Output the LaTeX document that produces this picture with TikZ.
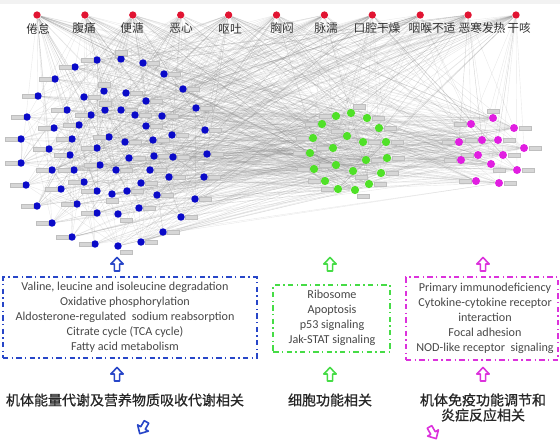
\documentclass[tikz,border=0pt]{standalone}
\usepackage{fontspec}
\setmainfont{Carlito}
\newfontfamily\cjk{Noto Sans CJK SC}
\newfontfamily\cjkb[FakeBold=0.8]{Noto Sans CJK SC}
\pgfdeclarelayer{bg}
\pgfsetlayers{bg,main}
\definecolor{nblue}{RGB}{10,10,200}
\definecolor{ngreen}{RGB}{80,225,40}
\definecolor{nmag}{RGB}{225,30,225}
\definecolor{nred}{RGB}{225,20,50}
\definecolor{bbox}{RGB}{40,70,200}
\definecolor{gbox}{RGB}{70,220,70}
\definecolor{mbox}{RGB}{220,50,220}
\tikzset{every picture/.style={line width=0.75pt}}
\tikzset{
  sym/.style={circle,fill=nred,inner sep=0pt,minimum size=5.5pt},
  symtext/.style={font=\cjk\fontsize{8.8}{10}\selectfont,text=black!80,inner sep=0pt},
  lbox/.style={fill=gray!32,draw=gray!50,line width=0.2pt,inner sep=0pt,minimum width=9pt,minimum height=3.3pt},
  bnode/.style={circle,fill=nblue,inner sep=0pt,minimum size=5.6pt,label distance=0.4pt},
  gnode/.style={circle,fill=ngreen,inner sep=0pt,minimum size=6.2pt,label distance=0.4pt},
  mnode/.style={circle,fill=nmag,inner sep=0pt,minimum size=6pt,label distance=0.4pt},
  edge/.style={draw=black!45,opacity=0.2,line width=0.3pt},
  pathbox/.style={draw=#1,line width=1.4pt,dash pattern=on 4pt off 2.5pt on 1pt off 2.5pt,inner sep=0pt},
  pathtext/.style={font=\fontsize{9.1}{11.2}\selectfont,text=black!72,align=center,inner sep=0pt},
  resulttext/.style={font=\cjkb\fontsize{10.5}{11.3}\selectfont,text=black!85,align=center,inner sep=0pt},
  hollowarrow/.pic={\draw[pic actions,line width=1.2pt,fill=white,line join=round] (-2.6,-7) -- (2.6,-7) -- (2.6,0) -- (6.2,0) -- (0,6.5) -- (-6.2,0) -- (-2.6,0) -- cycle;}
}
\begin{document}
\begin{tikzpicture}[x=0.75pt,y=0.75pt,yscale=-1,xscale=1]
  \useasboundingbox (0,0) rectangle (560,440);
  \fill[gray!10] (0,0) rectangle (560,4);

  %Symptoms
  \foreach \t/\lx [count=\i] in {倦怠/38,腹痛/84,便溏/132,恶心/181,呕吐/230,胸闷/282,脉濡/326,口腔干燥/377,咽喉不适/432,恶寒发热/482,干咳/519}{
    \node[sym] (s\i) at (37+47.9*\i-47.9,15) {};
    \node[symtext] (st\i) at (\lx,28.5) {\t};
  }

  %Blue cluster
  \foreach \x/\y/\a [count=\i] in {97/60/180,121/59/90,75/67/180,143/63/0,164/74/0,55/79/180,183/89/0,38/96/180,104/91/90,126/93/0,
      84/97/0,146/101/0,67/110/180,105/110/90,121/110/0,91/115/180,135/115/0,162/116/0,196/108/0,27/117/180,
      79/125/180,146/126/0,54/128/180,205/130/0,172/135/0,21/139/180,72/139/180,109/137/180,125/142/0,153/140/0,
      49/149/180,97/148/180,207/154/0,70/155/180,154/156/0,173/157/0,129/158/0,21/163/180,100/165/180,52/170/180,
      74/170/180,116/170/0,150/170/0,169/177/0,204/177/0,26/185/180,84/182/180,141/183/0,61/189/180,97/191/180,
      112/194/270,127/191/0,157/195/0,195/199/0,37/206/180,77/204/180,139/208/0,97/213/180,118/214/300,181/217/0,
      52/223/180,163/232/0,72/237/180,95/244/180,141/242/0,118/246/300}
    \node[bnode,label={[lbox]\a:{}}] (b\i) at (\x,\y) {};

  %Green cluster
  \foreach \x/\y/\a [count=\i] in {336/116/180,351/113/60,367/118/0,322/124/180,379/128/0,313/138/180,347/136/150,363/142/0,386/142/0,333/148/180,
      310/153/180,366/160/0,387/158/0,336/165/180,314/169/180,353/171/300,381/173/0,325/181/180,369/184/0,338/189/180,355/190/300}
    \node[gnode,label={[lbox]\a:{}}] (g\i) at (\x,\y) {};

  %Magenta cluster
  \foreach \x/\y/\a [count=\i] in {493/118/90,471/124/180,514/128/0,459/142/180,482/140/180,498/140/0,524/148/0,
      478/155/180,503/155/0,461/160/180,491/164/300,517/170/0,476/181/180,499/183/0}
    \node[mnode,label={[lbox]\a:{}}] (m\i) at (\x,\y) {};

  %Network edges
  \begin{pgfonlayer}{bg}
    \pgfmathsetseed{314}
    \foreach \k in {1,...,300}{
      \pgfmathrandominteger{\sa}{1}{11}\pgfmathrandominteger{\ta}{1}{66}
      \draw[edge] (s\sa) -- (b\ta);
    }
    \foreach \k in {1,...,90}{
      \pgfmathrandominteger{\sa}{1}{11}\pgfmathrandominteger{\ta}{1}{21}
      \draw[edge] (s\sa) -- (g\ta);
    }
    \foreach \k in {1,...,70}{
      \pgfmathrandominteger{\sa}{1}{11}\pgfmathrandominteger{\ta}{1}{14}
      \draw[edge] (s\sa) -- (m\ta);
    }
    \foreach \k in {1,...,260}{
      \pgfmathrandominteger{\sa}{1}{66}\pgfmathrandominteger{\ta}{1}{21}
      \draw[edge] (b\sa) -- (g\ta);
    }
    \foreach \k in {1,...,130}{
      \pgfmathrandominteger{\sa}{1}{66}\pgfmathrandominteger{\ta}{1}{14}
      \draw[edge] (b\sa) -- (m\ta);
    }
    \foreach \k in {1,...,60}{
      \pgfmathrandominteger{\sa}{1}{21}\pgfmathrandominteger{\ta}{1}{14}
      \draw[edge] (g\sa) -- (m\ta);
    }
    \foreach \k in {1,...,160}{
      \pgfmathrandominteger{\sa}{1}{66}\pgfmathrandominteger{\ta}{1}{66}
      \draw[edge] (b\sa) -- (b\ta);
    }
    \foreach \k in {1,...,40}{
      \pgfmathrandominteger{\sa}{1}{21}\pgfmathrandominteger{\ta}{1}{21}
      \draw[edge] (g\sa) -- (g\ta);
    }
  \end{pgfonlayer}

  %Pathway boxes
  \node[pathbox=bbox,minimum width=190.5pt,minimum height=60.5pt] (bluebox) at (130,317.5) {};
  \node[pathtext] (bluetext) at (125,317) {Valine, leucine and isoleucine degradation\\Oxidative phosphorylation\\Aldosterone-regulated\ \ sodium reabsorption\\Citrate cycle (TCA cycle)\\Fatty acid metabolism};
  \node[pathbox=gbox,minimum width=87.5pt,minimum height=50pt] (greenbox) at (331.5,318.5) {};
  \node[pathtext] (greentext) at (332,318) {Ribosome\\Apoptosis\\p53 signaling\\Jak-STAT signaling};
  \node[pathbox=mbox,minimum width=114pt,minimum height=62pt] (magbox) at (482,318.5) {};
  \node[pathtext] (magtext) at (485,318) {Primary immunodeficiency\\Cytokine-cytokine receptor\\interaction\\Focal adhesion\\NOD-like receptor\ \ signaling};

  %Arrows
  \pic[draw=bbox] at (117,264) {hollowarrow};
  \pic[draw=bbox] at (117,374) {hollowarrow};
  \pic[draw=gbox] at (330,264) {hollowarrow};
  \pic[draw=gbox] at (330,374) {hollowarrow};
  \pic[draw=mbox] at (483,264) {hollowarrow};
  \pic[draw=mbox] at (483,374) {hollowarrow};
  \pic[draw=bbox,rotate=150] at (143,428) {hollowarrow};
  \pic[draw=mbox,rotate=210] at (433,433) {hollowarrow};

  %Results
  \node[resulttext] (blueres) at (125,400) {机体能量代谢及营养物质吸收代谢相关};
  \node[resulttext] (greenres) at (330,400) {细胞功能相关};
  \node[resulttext] (magres) at (483,407.5) {机体免疫功能调节和\\炎症反应相关};
\end{tikzpicture}
\end{document}
